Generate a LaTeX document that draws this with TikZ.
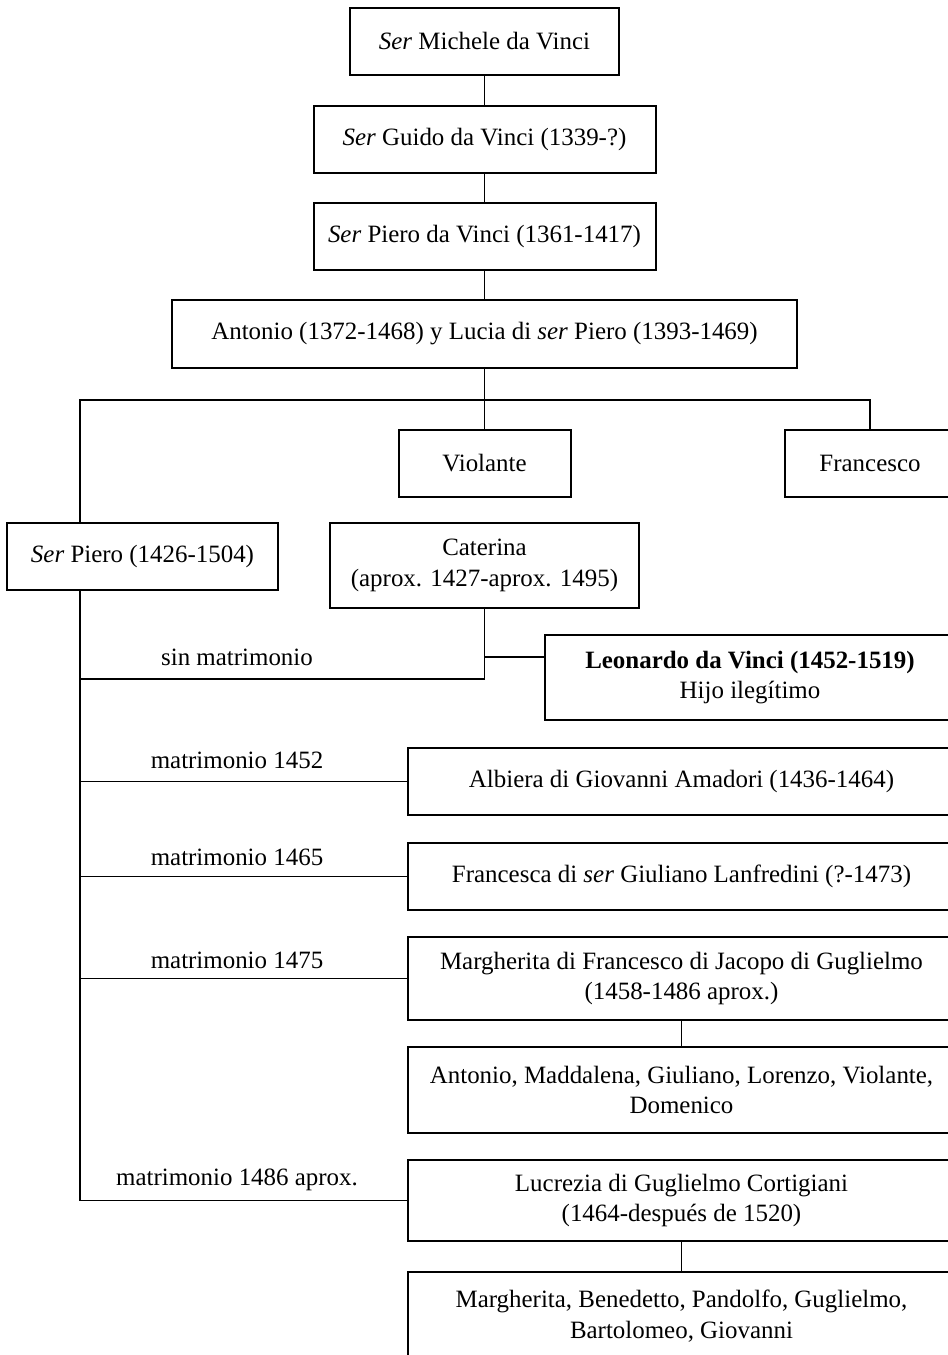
\documentclass[tikz,border=0pt]{standalone}
\usepackage{fontspec}
\setmainfont{Liberation Serif}
\tikzset{
  box/.style 2 args={draw, line width=1.5pt, align=center, inner sep=0pt,
    minimum width=#1*0.75pt, minimum height=#2*0.75pt},
  link/.style={line width=1.4pt},
  wedlabel/.style={inner sep=0pt}
}
\begin{document}
\begin{tikzpicture}[x=0.75pt,y=-0.75pt,font=\fontsize{18.7}{23}\selectfont]
\useasboundingbox (0,0) rectangle (948,1355);
\clip (0,0) rectangle (948,1355);
\node[box={269}{67}] (michele) at (484.5,41.5) {\textit{Ser} Michele da Vinci};
\node[box={342}{67}] (guido) at (484.5,139.5) {\textit{Ser} Guido da Vinci (1339-?)};
\node[box={342}{67}] (piero) at (484.5,236.5) {\textit{Ser} Piero da Vinci (1361-1417)};
\node[box={625}{68}] (antonio) at (484.5,334) {Antonio (1372-1468) y Lucia di \textit{ser} Piero (1393-1469)};
\node[box={172}{67}] (violante) at (484.5,463.5) {Violante};
\node[box={170}{67}] (francesco) at (870,463.5) {Francesco};
\node[box={271}{67}] (serpiero) at (142.5,556.5) {\textit{Ser} Piero (1426-1504)};
\node[box={309}{85}] (caterina) at (484.5,565.5) {Caterina\\(aprox. 1427-aprox. 1495)};
\node[box={410}{85}] (leonardo) at (750,677.5) {\textbf{Leonardo da Vinci (1452-1519)}\\Hijo ilegítimo};
\node[box={547}{67}] (albiera) at (681.5,781.5) {Albiera di Giovanni Amadori (1436-1464)};
\node[box={547}{67}] (francesca) at (681.5,876.5) {Francesca di \textit{ser} Giuliano Lanfredini (?-1473)};
\node[box={547}{83}] (margherita) at (681.5,978.5) {Margherita di Francesco di Jacopo di Guglielmo\\(1458-1486 aprox.)};
\node[box={547}{86}] (kidsa) at (681.5,1090) {Antonio, Maddalena, Giuliano, Lorenzo, Violante,\\Domenico};
\node[box={547}{81}] (lucrezia) at (681.5,1200.5) {Lucrezia di Guglielmo Cortigiani\\(1464-después de 1520)};
\node[box={547}{88}] (kidsb) at (681.5,1316) {Margherita, Benedetto, Pandolfo, Guglielmo,\\Bartolomeo, Giovanni};
\node[wedlabel] (sinm) at (237,657) {sin matrimonio};
\node[wedlabel] (m1452) at (237,760) {matrimonio 1452};
\node[wedlabel] (m1465) at (237,857) {matrimonio 1465};
\node[wedlabel] (m1475) at (237,960) {matrimonio 1475};
\node[wedlabel] (m1486) at (237,1180) {matrimonio 1486 aprox.};
\coordinate (spine) at (80,400);
\coordinate (sinmline) at (80,679);
\coordinate (leoline) at (484.5,657);
\draw[link] (michele) -- (guido);
\draw[link] (guido) -- (piero);
\draw[link] (piero) -- (antonio);
\draw[link] (antonio) -- (violante);
\draw[link] (serpiero.north -| spine) -- (spine) -| (francesco.north);
\draw[link] (caterina.south) |- (sinmline);
\draw[link] (leoline) -- (leoline -| leonardo.west);
\draw[link] (serpiero.south -| spine) -- (spine |- lucrezia.west) -- (lucrezia.west);
\foreach \n in {albiera,francesca,margherita}
  \draw[link] (spine |- \n.west) -- (\n.west);
\draw[link] (margherita) -- (kidsa);
\draw[link] (lucrezia) -- (kidsb);
\end{tikzpicture}
\end{document}
